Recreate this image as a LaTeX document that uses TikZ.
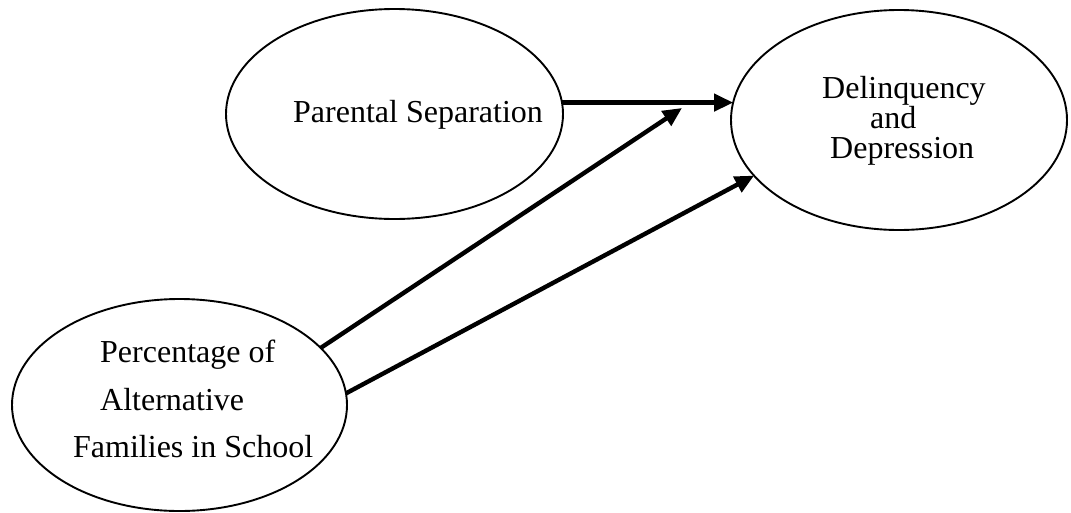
\documentclass[tikz,border=0pt]{standalone}
\usepackage{fontspec}
\setmainfont{Liberation Serif}
\usetikzlibrary{shapes.geometric,arrows.meta}
\begin{document}
\begin{tikzpicture}[x=1pt,y=-1pt,
  construct/.style={draw, line width=1.9pt, ellipse, inner sep=0pt, outer sep=0pt},
  label text/.style={inner sep=0pt, anchor=base west, font=\fontsize{32}{38}\selectfont},
  path arrow/.style={line width=4.4pt, -{Triangle[length=19pt,width=17pt]}}]
  \useasboundingbox (0,0) rectangle (1071,512);
  \fill[white] (0,0) rectangle (1071,512);

  % the three constructs
  \node[construct, minimum width=337pt, minimum height=210pt] (ps) at (394.5,114) {};
  \node[construct, minimum width=336pt, minimum height=220pt] (dd) at (899,120) {};
  \node[construct, minimum width=335pt, minimum height=212pt] (pa) at (179.5,405) {};

  % labels
  \node[label text] (psA) at (293,122) {Parental Separation};
  \node[label text] (ddA) at (822,98) {Delinquency};
  \node[label text] (ddB) at (870,128) {and};
  \node[label text] (ddC) at (830,158) {Depression};
  \node[label text] (paA) at (100,362) {Percentage of};
  \node[label text] (paB) at (100,410) {Alternative};
  \node[label text] (paC) at (73,457) {Families in School};

  % paths
  \coordinate (mod) at (682,108);
  \draw[path arrow] (ps.3.4 |- dd.174.5) -- (dd.174.5);
  \draw[path arrow] (pa.22.8) -- (mod);
  \draw[path arrow] (pa.4.8) -- (dd.201.9);
\end{tikzpicture}
\end{document}
